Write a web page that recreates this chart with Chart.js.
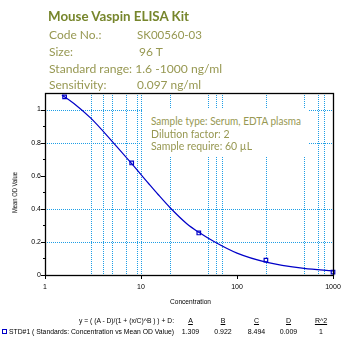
<!DOCTYPE html>
<html><head><meta charset="utf-8">
<script src="https://cdn.jsdelivr.net/npm/chart.js@4/dist/chart.umd.min.js"></script>
<style>
html,body{margin:0;padding:0;background:#fff;width:350px;height:342px;overflow:hidden}
#c{position:absolute;left:0;top:0}
.t{position:absolute;white-space:nowrap;line-height:1.15;transform-origin:0 50%}
#box{position:absolute;left:143px;top:108px;width:165px;height:49px;background:#fff}
</style></head><body>
<canvas id="c" width="350" height="342"></canvas>
<div id="box"></div>
<script>
// ---- data ----
const stdConc = [1.6, 8, 40, 200, 1000];
const stdOD   = [1.077, 0.677, 0.254, 0.090, 0.018];
const curveConc = [1.5, 2, 3, 5, 8, 12, 15, 20, 30, 40, 60, 100, 200, 500, 1000];
const curveOD   = [1.088, 1.037, 0.948, 0.808, 0.673, 0.553, 0.488, 0.408, 0.310, 0.258, 0.196, 0.132, 0.078, 0.040, 0.025];
const xTickVals = [1, 10, 100, 1000];
const xTickLabels = ['1', '10', '100', '1000'];
const yTickVals = [0, 0.2, 0.4, 0.6, 0.8, 1];
const yTickLabels = ['0', '0.2', '0.4', '0.6', '0.8', '1'];
const yMinorVals = [0.1, 0.3, 0.5, 0.7, 0.9];
const xGridVals = [3, 4, 5, 7, 9, 10, 20, 50, 60, 70, 200, 500, 700, 800];
const yGridVals = [0.2, 0.4, 0.8, 1];
const fitNames = ['A', 'B', 'C', 'D', 'R^2'];
const fitValues = ['1.309', '0.922', '8.494', '0.009', '1'];
const headerLabels = ['Code No.:', 'Size:', 'Standard range: 1.6 -1000 ng/ml', 'Sensitivity:'];
const headerValues = ['SK00560-03', '96 T', '', '0.097 ng/ml'];
const boxLines = ['Sample type: Serum, EDTA plasma', 'Dilution factor: 2', 'Sample require:  60 µL'];

const BLUE = '#0000c8';
const GRID = '#1e9ee6';

const framePlugin = {
  id: 'frame',
  beforeDatasetsDraw(chart) {
    const {ctx, chartArea: a, scales: {x, y}} = chart;
    ctx.save();
    ctx.strokeStyle = GRID; ctx.lineWidth = 1; ctx.setLineDash([1, 1]);
    xGridVals.forEach(v => {
      const p = Math.round(x.getPixelForValue(v)) + 0.5;
      ctx.beginPath(); ctx.moveTo(p, a.top); ctx.lineTo(p, a.bottom); ctx.stroke();
    });
    yGridVals.forEach(v => {
      const p = Math.round(y.getPixelForValue(v)) + 0.5;
      ctx.beginPath(); ctx.moveTo(a.left, p); ctx.lineTo(a.right, p); ctx.stroke();
    });
    ctx.restore();
  },
  afterDatasetsDraw(chart) {
    const {ctx, chartArea: a, scales: {x, y}} = chart;
    ctx.save();
    ctx.strokeStyle = '#000'; ctx.lineWidth = 1.3;
    ctx.strokeRect(Math.round(a.left) + 0.5, Math.round(a.top) + 0.5, Math.round(a.right - a.left), Math.round(a.bottom - a.top));
    ctx.lineWidth = 1;
    yTickVals.forEach(v => {
      const p = Math.round(y.getPixelForValue(v)) + 0.5;
      ctx.beginPath(); ctx.moveTo(a.left - 4, p); ctx.lineTo(a.left, p); ctx.stroke();
    });
    yMinorVals.forEach(v => {
      const p = Math.round(y.getPixelForValue(v)) + 0.5;
      ctx.beginPath(); ctx.moveTo(a.left - 2, p); ctx.lineTo(a.left, p); ctx.stroke();
    });
    xTickVals.forEach(v => {
      const p = Math.round(x.getPixelForValue(v)) + 0.5;
      ctx.beginPath(); ctx.moveTo(p, a.bottom); ctx.lineTo(p, a.bottom + 4); ctx.stroke();
    });
    ctx.restore();
  }
};

const tickFont = {family: 'Liberation Sans', size: 7};
new Chart(document.getElementById('c'), {
  type: 'line',
  data: {
    datasets: [
      {data: curveConc.map((v, i) => ({x: v, y: curveOD[i]})), borderColor: BLUE, borderWidth: 1.2,
       pointRadius: 0, cubicInterpolationMode: 'monotone', fill: false},
      {data: stdConc.map((v, i) => ({x: v, y: stdOD[i]})), showLine: false, pointStyle: 'rect',
       pointRadius: 2.5, pointBorderColor: BLUE, pointBackgroundColor: '#fff', pointBorderWidth: 1.2,
       borderColor: BLUE, clip: false}
    ]
  },
  options: {
    responsive: false, animation: false, events: [],
    layout: {padding: {top: 93, right: 17, left: 0, bottom: 0}},
    plugins: {legend: {display: false}, tooltip: {enabled: false}},
    scales: {
      x: {type: 'logarithmic', min: 1, max: 1000,
          afterBuildTicks: s => { s.ticks = xTickVals.map(v => ({value: v})); },
          afterFit: s => { s.height = 67; },
          grid: {display: false, drawTicks: false}, border: {display: false},
          ticks: {padding: 8, autoSkip: false, maxRotation: 0, font: tickFont, color: '#000',
                  callback: (v, i) => xTickLabels[i]}},
      y: {type: 'linear', min: 0, max: 1.1,
          afterBuildTicks: s => { s.ticks = yTickVals.map(v => ({value: v})); },
          afterFit: s => { s.width = 45; },
          grid: {display: false, drawTicks: false}, border: {display: false},
          ticks: {padding: 4, autoSkip: false, font: tickFont, color: '#000',
                  callback: (v, i) => yTickLabels[i]}}
    }
  },
  plugins: [framePlugin]
});

// ---- text overlays ----
function put(txt, x, y, o) {
  const d = document.createElement('div');
  d.className = 't';
  d.textContent = txt;
  d.style.font = o.font;
  d.style.color = o.color || '#000';
  if (o.u) d.style.textDecoration = 'underline';
  document.body.appendChild(d);
  const r = d.getBoundingClientRect();
  const w = r.width, h = r.height;
  const sx = o.w ? o.w / w : 1;
  if (o.rot) {
    d.style.transformOrigin = '50% 50%';
    d.style.left = (x - w / 2) + 'px';
    d.style.top = (y - h / 2) + 'px';
    d.style.transform = 'rotate(-90deg) scaleX(' + sx + ')';
    return;
  }
  const left = o.align === 'center' ? x - w * sx / 2 : x;
  d.style.left = left + 'px';
  d.style.top = (y - h / 2) + 'px';
  d.style.transform = 'scaleX(' + sx + ')';
}
const TITLE = '#77862c', TXT = '#979852';
put('Mouse Vaspin ELISA Kit', 48, 16, {font: 'bold 13.5px Lato', color: TITLE, w: 141});
const hy = [34, 51, 68, 84];
headerLabels.forEach((t, i) => put(t, 49, hy[i], {font: '12px Lato', color: TXT, w: i === 2 ? 173 : null}));
const hvx = [137, 139, 0, 137], hvw = [65, 0, 0, 64];
headerValues.forEach((t, i) => { if (t) put(t, hvx[i], hy[i], {font: '12px Lato', color: TXT, w: hvw[i] || null}); });
const by = [121, 133.5, 146];
boxLines.forEach((t, i) => put(t, 151, by[i], {font: '10.5px Lato', color: TXT, w: i === 0 ? 150 : null}));

const small = '7px "Liberation Sans"';
put('Mean OD Value', 15, 192, {font: small, rot: true, w: 41});
put('Concentration', 190, 301, {font: small, align: 'center', w: 41});
put('y = ( (A - D)/(1 + (x/C)^B ) ) + D:', 79, 320.5, {font: small, w: 95});
put('STD#1 ( Standards: Concentration vs Mean OD Value)', 9, 331, {font: small, w: 165});
const fx = [190.5, 223, 256.5, 288.5, 321];
fitNames.forEach((t, i) => put(t, fx[i], 320.5, {font: small, align: 'center', u: true}));
fitValues.forEach((t, i) => put(t, fx[i], 331, {font: small, align: 'center'}));
// legend marker
const m = document.createElement('div');
m.style.cssText = 'position:absolute;left:2px;top:329px;width:3px;height:3px;border:1px solid ' + BLUE + ';background:#fff';
document.body.appendChild(m);
</script>
</body></html>
